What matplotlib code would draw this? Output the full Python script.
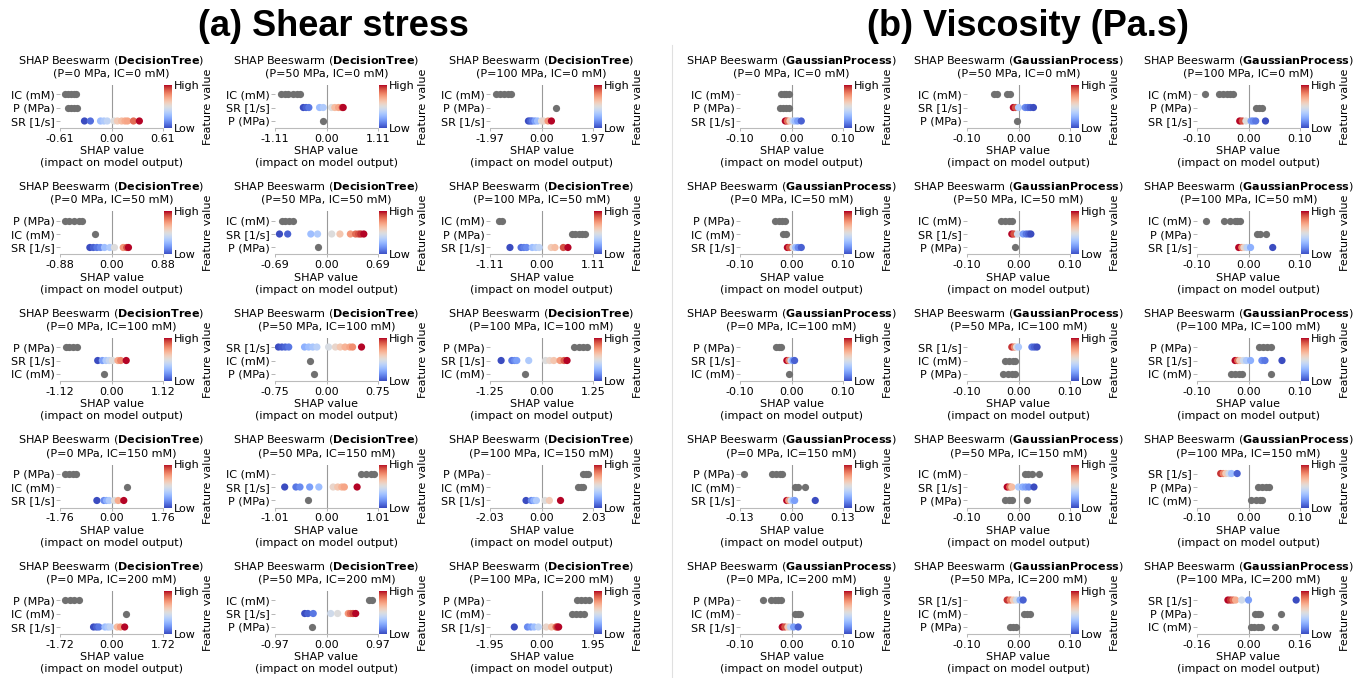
import matplotlib
matplotlib.use("Agg")
import matplotlib.pyplot as plt
from matplotlib import cm, colors
from matplotlib.transforms import offset_copy

# operating conditions of every panel
pressures = [0, 50, 100]          # MPa, columns
ionic_strengths = [0, 50, 100, 150, 200]   # mM, rows
feature_names = {"SR": "SR [1/s]", "P": "P (MPa)", "IC": "IC (mM)"}

# ---- (a) shear stress, DecisionTree ----
dt_limits = {(0, 0): 0.61, (50, 0): 1.11, (100, 0): 1.97,
             (0, 50): 0.88, (50, 50): 0.69, (100, 50): 1.11,
             (0, 100): 1.12, (50, 100): 0.75, (100, 100): 1.25,
             (0, 150): 1.76, (50, 150): 1.01, (100, 150): 2.03,
             (0, 200): 1.72, (50, 200): 0.97, (100, 200): 1.95}
dt_order = {(0, 0): ("IC", "P", "SR"), (50, 0): ("IC", "SR", "P"), (100, 0): ("IC", "P", "SR"),
            (0, 50): ("P", "IC", "SR"), (50, 50): ("IC", "SR", "P"), (100, 50): ("IC", "P", "SR"),
            (0, 100): ("P", "SR", "IC"), (50, 100): ("SR", "IC", "P"), (100, 100): ("P", "SR", "IC"),
            (0, 150): ("P", "IC", "SR"), (50, 150): ("IC", "SR", "P"), (100, 150): ("P", "IC", "SR"),
            (0, 200): ("P", "IC", "SR"), (50, 200): ("IC", "SR", "P"), (100, 200): ("P", "IC", "SR")}
dt_sr_shap = {
    (0, 0): [-0.32, -0.25, -0.13, -0.09, -0.05, 0.03, 0.07, 0.12, 0.16, 0.19, 0.26, 0.33],
    (50, 0): [-0.50, -0.44, -0.38, -0.15, -0.07, 0.11, 0.18, 0.26, 0.34, 0.36],
    (100, 0): [-0.50, -0.42, -0.35, -0.25, -0.15, 0.0, 0.08, 0.25, 0.38],
    (0, 50): [-0.37, -0.31, -0.25, -0.19, -0.12, -0.03, 0.05, 0.20, 0.26, 0.29],
    (50, 50): [-0.63, -0.52, -0.21, -0.12, 0.07, 0.18, 0.32, 0.39, 0.43, 0.46, 0.50],
    (100, 50): [-0.68, -0.44, -0.38, -0.32, -0.20, -0.12, -0.05, 0.21, 0.29, 0.47, 0.57],
    (0, 100): [-0.30, -0.20, -0.12, -0.05, 0.02, 0.14, 0.20, 0.32],
    (50, 100): [-0.70, -0.65, -0.60, -0.55, -0.32, -0.26, -0.20, -0.14, 0.03, 0.13, 0.20,
                0.27, 0.34, 0.38, 0.51],
    (100, 100): [-0.98, -0.72, -0.65, -0.60, -0.31, 0.10, 0.20, 0.30, 0.45, 0.55, 0.62],
    (0, 150): [-0.50, -0.26, -0.17, -0.08, 0.10, 0.23, 0.42],
    (50, 150): [-0.82, -0.60, -0.52, -0.33, -0.15, 0.13, 0.22, 0.30, 0.35, 0.60],
    (100, 150): [-0.61, -0.40, -0.30, -0.20, 0.14, 0.31, 0.75],
    (0, 200): [-0.60, -0.50, -0.42, -0.22, -0.12, -0.04, 0.19, 0.30, 0.44],
    (50, 200): [-0.41, -0.35, -0.25, 0.08, 0.21, 0.41, 0.45, 0.50, 0.55],
    (100, 200): [-1.03, -0.53, -0.40, -0.28, -0.12, 0.18, 0.38, 0.55, 0.60, 0.65]}
dt_sr_value = {
    (0, 0): [0.0, 0.08, 0.3, 0.35, 0.4, 0.5, 0.6, 0.65, 0.7, 0.72, 0.85, 1.0],
    (50, 0): [0.0, 0.05, 0.1, 0.3, 0.35, 0.5, 0.65, 0.72, 0.9, 1.0],
    (100, 0): [0.0, 0.05, 0.1, 0.2, 0.3, 0.5, 0.55, 0.75, 1.0],
    (0, 50): [0.0, 0.05, 0.1, 0.15, 0.3, 0.35, 0.5, 0.75, 0.9, 1.0],
    (50, 50): [0.0, 0.05, 0.3, 0.35, 0.5, 0.62, 0.75, 0.85, 0.9, 0.95, 1.0],
    (100, 50): [0.0, 0.08, 0.12, 0.15, 0.3, 0.35, 0.4, 0.6, 0.65, 0.9, 1.0],
    (0, 100): [0.0, 0.2, 0.35, 0.42, 0.5, 0.7, 0.8, 1.0],
    (50, 100): [0.0, 0.03, 0.06, 0.1, 0.25, 0.3, 0.33, 0.38, 0.48, 0.55, 0.62, 0.68, 0.72,
                0.78, 1.0],
    (100, 100): [0.0, 0.1, 0.15, 0.2, 0.35, 0.5, 0.55, 0.62, 0.75, 0.88, 1.0],
    (0, 150): [0.0, 0.15, 0.25, 0.35, 0.5, 0.7, 1.0],
    (50, 150): [0.0, 0.1, 0.15, 0.2, 0.3, 0.55, 0.62, 0.68, 0.72, 1.0],
    (100, 150): [0.0, 0.15, 0.25, 0.35, 0.5, 0.6, 1.0],
    (0, 200): [0.0, 0.05, 0.1, 0.3, 0.35, 0.4, 0.65, 0.75, 1.0],
    (50, 200): [0.0, 0.05, 0.1, 0.45, 0.5, 0.75, 0.85, 0.92, 1.0],
    (100, 200): [0.0, 0.15, 0.2, 0.3, 0.4, 0.55, 0.65, 0.85, 0.95, 1.0]}
dt_p_shap = {
    (0, 0): [-0.52, -0.48, -0.44, -0.41], (50, 0): [-0.07], (100, 0): [0.57],
    (0, 50): [-0.80, -0.72, -0.64, -0.56, -0.50], (50, 50): [-0.12],
    (100, 50): [0.65, 0.72, 0.80, 0.88, 0.93],
    (0, 100): [-1.00, -0.92, -0.84, -0.76], (50, 100): [-0.18], (100, 100): [0.80, 0.90, 1.00, 1.10],
    (0, 150): [-1.60, -1.45, -1.30, -1.20], (50, 150): [-0.36], (100, 150): [1.62, 1.75, 1.85],
    (0, 200): [-1.55, -1.40, -1.25, -1.10], (50, 200): [-0.28], (100, 200): [1.35, 1.50, 1.65, 1.80]}
dt_ic_shap = {
    (0, 0): [-0.55, -0.52, -0.48, -0.45, -0.42], (50, 0): [-0.98, -0.90, -0.82, -0.72, -0.64, -0.58],
    (100, 0): [-1.75, -1.60, -1.45, -1.30, -1.15],
    (0, 50): [-0.29], (50, 50): [-0.59, -0.55, -0.50, -0.45], (100, 50): [-0.92, -0.85],
    (0, 100): [-0.16], (50, 100): [-0.24], (100, 100): [-0.40],
    (0, 150): [0.53], (50, 150): [0.68, 0.78, 0.88, 0.93], (100, 150): [1.45, 1.55, 1.65],
    (0, 200): [0.49], (50, 200): [0.80, 0.86], (100, 200): [1.15, 1.30, 1.45, 1.60]}

# ---- (b) viscosity, GaussianProcess ----
gp_limits = {(0, 0): 0.10, (50, 0): 0.10, (100, 0): 0.10,
             (0, 50): 0.10, (50, 50): 0.10, (100, 50): 0.10,
             (0, 100): 0.10, (50, 100): 0.10, (100, 100): 0.10,
             (0, 150): 0.13, (50, 150): 0.10, (100, 150): 0.10,
             (0, 200): 0.10, (50, 200): 0.10, (100, 200): 0.16}
gp_order = {(0, 0): ("IC", "P", "SR"), (50, 0): ("IC", "SR", "P"), (100, 0): ("IC", "P", "SR"),
            (0, 50): ("P", "IC", "SR"), (50, 50): ("IC", "SR", "P"), (100, 50): ("IC", "P", "SR"),
            (0, 100): ("P", "SR", "IC"), (50, 100): ("SR", "IC", "P"), (100, 100): ("P", "SR", "IC"),
            (0, 150): ("P", "IC", "SR"), (50, 150): ("IC", "SR", "P"), (100, 150): ("SR", "P", "IC"),
            (0, 200): ("P", "IC", "SR"), (50, 200): ("SR", "IC", "P"), (100, 200): ("SR", "P", "IC")}
gp_sr_shap = {
    (0, 0): [-0.012, -0.008, -0.003, 0.003, 0.007, 0.012, 0.019],
    (50, 0): [-0.010, -0.006, 0.0, 0.013, 0.018, 0.023, 0.029],
    (100, 0): [-0.017, -0.012, -0.005, 0.005, 0.009, 0.014, 0.033],
    (0, 50): [-0.008, -0.004, 0.003, 0.008, 0.013, 0.019],
    (50, 50): [-0.013, -0.009, -0.002, 0.009, 0.015, 0.020, 0.024],
    (100, 50): [-0.019, -0.013, -0.009, -0.003, 0.004, 0.047],
    (0, 100): [-0.009, -0.005, -0.001, 0.003, 0.006],
    (50, 100): [-0.013, -0.008, -0.004, 0.0, 0.026, 0.031, 0.036],
    (100, 100): [-0.026, -0.021, -0.017, -0.010, -0.004, 0.004, 0.026, 0.032, 0.065],
    (0, 150): [-0.012, -0.007, -0.001, 0.004, 0.008, 0.060],
    (50, 150): [-0.022, -0.017, -0.013, 0.0, 0.008, 0.014, 0.020, 0.030],
    (100, 150): [-0.054, -0.049, -0.044, -0.038, -0.033, -0.022],
    (0, 200): [-0.018, -0.013, -0.007, -0.002, 0.004, 0.013],
    (50, 200): [-0.022, -0.016, -0.010, -0.004, 0.003, 0.009],
    (100, 200): [-0.064, -0.056, -0.048, -0.040, -0.021, 0.0, 0.148]}
gp_sr_value = {
    (0, 0): [1.0, 0.85, 0.6, 0.4, 0.3, 0.2, 0.05],
    (50, 0): [1.0, 0.9, 0.35, 0.15, 0.1, 0.05, 0.0],
    (100, 0): [1.0, 0.9, 0.5, 0.2, 0.15, 0.1, 0.0],
    (0, 50): [1.0, 0.9, 0.5, 0.3, 0.15, 0.05],
    (50, 50): [1.0, 0.9, 0.45, 0.2, 0.1, 0.05, 0.0],
    (100, 50): [1.0, 0.8, 0.55, 0.4, 0.25, 0.0],
    (0, 100): [1.0, 0.8, 0.4, 0.2, 0.05],
    (50, 100): [0.95, 0.8, 0.5, 0.35, 0.1, 0.05, 0.0],
    (100, 100): [1.0, 0.85, 0.6, 0.45, 0.35, 0.25, 0.15, 0.1, 0.0],
    (0, 150): [1.0, 0.75, 0.45, 0.3, 0.2, 0.0],
    (50, 150): [1.0, 0.85, 0.65, 0.35, 0.25, 0.2, 0.15, 0.0],
    (100, 150): [0.95, 0.8, 0.6, 0.45, 0.3, 0.05],
    (0, 200): [1.0, 0.9, 0.6, 0.4, 0.2, 0.05],
    (50, 200): [0.95, 0.8, 0.6, 0.45, 0.25, 0.05],
    (100, 200): [1.0, 0.95, 0.85, 0.7, 0.45, 0.2, 0.0]}
gp_p_shap = {
    (0, 0): [-0.022, -0.016, -0.010, -0.005], (50, 0): [-0.002], (100, 0): [0.014, 0.020, 0.026],
    (0, 50): [-0.032, -0.025, -0.018, -0.012], (50, 50): [-0.006], (100, 50): [0.016, 0.022, 0.034],
    (0, 100): [-0.030, -0.025, -0.020], (50, 100): [-0.030, -0.020, -0.012, -0.006],
    (100, 100): [0.020, 0.028, 0.036, 0.043],
    (0, 150): [-0.121, -0.050, -0.040, -0.030, -0.024], (50, 150): [-0.026, -0.018, -0.012, 0.017],
    (100, 150): [0.018, 0.026, 0.034, 0.039],
    (0, 200): [-0.056, -0.040, -0.033, -0.026, -0.021], (50, 200): [-0.017, -0.010, -0.004],
    (100, 200): [0.020, 0.028, 0.036, 0.100]}
gp_ic_shap = {
    (0, 0): [-0.020, -0.015, -0.010, -0.005], (50, 0): [-0.048, -0.042, -0.022, -0.016],
    (100, 0): [-0.084, -0.058, -0.050, -0.042, -0.035, -0.030],
    (0, 50): [-0.016, -0.010], (50, 50): [-0.034, -0.026, -0.018, -0.012],
    (100, 50): [-0.082, -0.047, -0.035, -0.027, -0.022, -0.017],
    (0, 100): [-0.004], (50, 100): [-0.026, -0.018, -0.010, -0.006],
    (100, 100): [-0.034, -0.026, -0.018, -0.012, 0.043],
    (0, 150): [0.010, 0.016, 0.034], (50, 150): [0.013, 0.019, 0.026, 0.039],
    (100, 150): [0.004, 0.014, 0.022, 0.026],
    (0, 200): [0.006, 0.012, 0.017], (50, 200): [0.011, 0.017, 0.022],
    (100, 200): [0.008, 0.018, 0.028, 0.038, 0.083]}

W, H = 1362, 678
FS = 8
cmap = plt.get_cmap("coolwarm")
GREY = "#707070"
DOT = 27


def box(x, y, w, h):
    """pixel box (left, top, width, height) -> figure fraction"""
    return [x / W, 1 - (y + h) / H, w / W, h / H]


def beeswarm(fig, left, top, model, key, lim, order, sr_x, sr_v, p_x, ic_x):
    ax = fig.add_axes(box(left, top, 103, 43))
    shap_vals = {"SR": sr_x, "P": p_x, "IC": ic_x}
    n = len(order)
    for i, feat in enumerate(order):
        y = n - 1 - i
        xs = shap_vals[feat]
        if feat == "SR":
            ax.scatter(xs, [y] * len(xs), c=sr_v, cmap=cmap, vmin=0, vmax=1,
                       s=DOT, linewidths=0, zorder=3)
        else:
            ax.scatter(xs, [y] * len(xs), color=GREY, s=DOT, linewidths=0, zorder=3)
    ax.axvline(0, color="#999999", lw=0.8, zorder=-1)
    ax.set_xlim(-lim, lim)
    ax.set_ylim(-0.52, n - 0.33)
    ax.set_xticks([-lim, 0, lim])
    ax.set_xticklabels(["%.2f" % v for v in (-lim, 0, lim)], fontsize=FS)
    ax.set_yticks(range(n))
    ax.set_yticklabels([feature_names[f] for f in order[::-1]], fontsize=FS)
    ax.tick_params(axis="y", length=3, width=0.5, color="#999999", pad=1)
    ax.tick_params(axis="x", length=2, width=0.5, color="#999999", pad=2)
    for side in ("top", "right", "left"):
        ax.spines[side].set_visible(False)
    ax.spines["bottom"].set_color("#bbbbbb")
    ax.set_xlabel("SHAP value\n(impact on model output)", fontsize=FS, labelpad=2,
                  linespacing=1.25)

    # two-line heading: model name, then operating condition
    P, IC = key
    ax.set_title("SHAP Beeswarm ($\\bf{%s}$)" % model, fontsize=FS, pad=15.5)
    ax.text(0.5, 1, "(P=%d MPa, IC=%d mM)" % (P, IC), fontsize=FS, ha="center",
            va="baseline", transform=offset_copy(ax.transAxes, fig=fig, y=8.5, units="dots"))

    cax = fig.add_axes(box(left + 104, top, 8, 43))
    cb = fig.colorbar(cm.ScalarMappable(norm=colors.Normalize(0, 1), cmap=cmap),
                      cax=cax, ticks=[0, 1])
    cb.set_ticklabels(["Low", "High"])
    cb.outline.set_visible(False)
    cax.tick_params(length=0, labelsize=FS, pad=1)
    cb.set_label("Feature value", fontsize=FS, labelpad=3)


fig = plt.figure(figsize=(W / 100, H / 100), dpi=100)

col_a = [60, 275, 490]
col_b = [740, 967, 1197]
for r, ic in enumerate(ionic_strengths):
    top = 85 + 126.5 * r
    for c, p in enumerate(pressures):
        key = (p, ic)
        beeswarm(fig, col_a[c], top, "DecisionTree", key, dt_limits[key], dt_order[key],
                 dt_sr_shap[key], dt_sr_value[key], dt_p_shap[key], dt_ic_shap[key])
        beeswarm(fig, col_b[c], top, "GaussianProcess", key, gp_limits[key], gp_order[key],
                 gp_sr_shap[key], gp_sr_value[key], gp_p_shap[key], gp_ic_shap[key])

fig.text(333 / W, 1 - 26 / H, "(a) Shear stress", ha="center", va="center",
         fontsize=26, fontweight="bold", family="Liberation Sans")
fig.text(1028 / W, 1 - 26 / H, "(b) Viscosity (Pa.s)", ha="center", va="center",
         fontsize=26, fontweight="bold", family="Liberation Sans")
fig.add_artist(plt.Line2D([672 / W, 672 / W], [0, 1 - 45 / H], color="#e0e0e0", lw=0.8))

fig.savefig("out.png", dpi=100)
